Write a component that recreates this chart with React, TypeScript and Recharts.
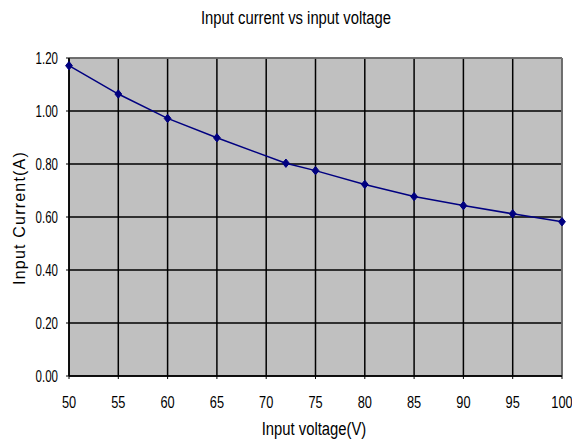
import React from 'react';
import { LineChart, Line, XAxis, YAxis, CartesianGrid, ReferenceLine } from 'recharts';

const voltages = [50, 55, 60, 65, 72, 75, 80, 85, 90, 95, 100];
const currents = [1.171, 1.064, 0.972, 0.899, 0.803, 0.775, 0.723, 0.677, 0.643, 0.612, 0.582];
const xTicks = [50, 55, 60, 65, 70, 75, 80, 85, 90, 95, 100];
const yTicks = [0, 0.2, 0.4, 0.6, 0.8, 1.0, 1.2];

const data = voltages.map((v, i) => ({ v, c: currents[i] }));

const FONT = '"Liberation Sans", Arial, sans-serif';

const Diamond = (props: any) => {
  const { cx, cy } = props;
  if (cx == null || cy == null) return null;
  return <path d={`M${cx},${cy - 4.2} L${cx + 3.4},${cy} L${cx},${cy + 4.2} L${cx - 3.4},${cy} Z`} fill="#000080" stroke="#000080" />;
};

const XTick = (props: any) => {
  const { x, y, payload } = props;
  return (
    <g transform={`translate(${x},${y})`}>
      <text transform="scale(0.8,1)" textAnchor="middle" x={0} y={27} fontSize={16} fontFamily={FONT} fill="#000">
        {payload.value}
      </text>
    </g>
  );
};

const YTick = (props: any) => {
  const { x, y, payload } = props;
  return (
    <g transform={`translate(${x},${y})`}>
      <text transform="scale(0.72,1)" textAnchor="end" x={0} y={0} dy="0.36em" fontSize={16} fontFamily={FONT} fill="#000">
        {Number(payload.value).toFixed(2)}
      </text>
    </g>
  );
};

export default function App() {
  return (
    <div style={{ position: 'absolute', left: 0, top: 0, width: 572, height: 442, background: '#fff' }}>
      <LineChart width={572} height={442} data={data} margin={{ top: 58, right: 10, bottom: 26, left: 20 }}>
        <CartesianGrid stroke="#000" strokeWidth={1.5} fill="#C0C0C0" fillOpacity={1} />
        <XAxis
          dataKey="v"
          type="number"
          domain={[50, 100]}
          ticks={xTicks}
          interval={0}
          height={40}
          tickSize={3}
          axisLine={{ stroke: '#000', strokeWidth: 1.5 }}
          tickLine={{ stroke: '#000' }}
          tick={<XTick />}
        />
        <YAxis
          type="number"
          domain={[0, 1.2]}
          ticks={yTicks}
          interval={0}
          width={49}
          tickSize={3}
          tickMargin={8}
          axisLine={{ stroke: '#000', strokeWidth: 1.5 }}
          tickLine={{ stroke: '#000' }}
          tick={<YTick />}
        />
        <ReferenceLine y={1.2} stroke="#808080" strokeWidth={1.5} />
        <ReferenceLine x={100} stroke="#808080" strokeWidth={1.5} />
        <Line
          dataKey="c"
          stroke="#000080"
          strokeWidth={1.5}
          type="linear"
          dot={<Diamond />}
          isAnimationActive={false}
        />
        <g transform="translate(296,24)">
          <text transform="scale(0.78,1)" x={0} y={0} textAnchor="middle" fontSize={19} fontFamily={FONT} fill="#000">Input current vs input voltage</text>
        </g>
        <g transform="translate(314,435)">
          <text transform="scale(0.78,1)" x={0} y={0} textAnchor="middle" fontSize={19} fontFamily={FONT} fill="#000">Input voltage(V)</text>
        </g>
        <text x={25} y={218} textAnchor="middle" fontSize={16} fontFamily={FONT} fill="#000" letterSpacing={1.2} transform="rotate(-90 25 218)">Input Current(A)</text>
      </LineChart>
    </div>
  );
}
